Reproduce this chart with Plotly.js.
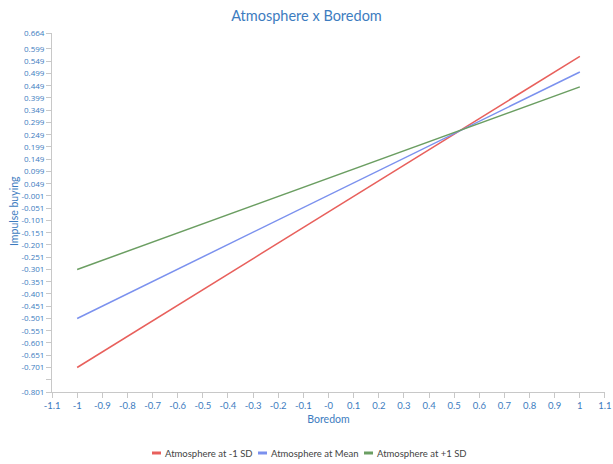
<!DOCTYPE html>
<html>
<head>
<meta charset="utf-8">
<script src="https://cdn.plot.ly/plotly-3.0.1.min.js"></script>
<style>html,body{margin:0;padding:0;background:#fff;}#chart{width:613px;height:464px;}</style>
</head>
<body>
<div id="chart"></div>
<script>
const xValues = [-1, 1];
const seriesNames = ["Atmosphere at -1 SD", "Atmosphere at Mean", "Atmosphere at +1 SD"];
const lowSD = [-0.701, 0.569];
const meanSD = [-0.501, 0.505];
const highSD = [-0.301, 0.444];
const seriesColors = ["#e8605c", "#7b91ee", "#6b9e62"];
const yTickVals = [-0.801, -0.751, -0.701, -0.651, -0.601, -0.551, -0.501, -0.451, -0.401, -0.351, -0.301, -0.251, -0.201, -0.151, -0.101, -0.051, -0.001, 0.049, 0.099, 0.149, 0.199, 0.249, 0.299, 0.349, 0.399, 0.449, 0.499, 0.549, 0.599, 0.664];
const yTickText = ["-0.801", "", "-0.701", "-0.651", "-0.601", "-0.551", "-0.501", "-0.451", "-0.401", "-0.351", "-0.301", "-0.251", "-0.201", "-0.151", "-0.101", "-0.051", "-0.001", "0.049", "0.099", "0.149", "0.199", "0.249", "0.299", "0.349", "0.399", "0.449", "0.499", "0.549", "0.599", "0.664"];
const xTickVals = [-1.1, -1, -0.9, -0.8, -0.7, -0.6, -0.5, -0.4, -0.3, -0.2, -0.1, 0, 0.1, 0.2, 0.3, 0.4, 0.5, 0.6, 0.7, 0.8, 0.9, 1, 1.1];
const xTickText = ["-1.1", "-1", "-0.9", "-0.8", "-0.7", "-0.6", "-0.5", "-0.4", "-0.3", "-0.2", "-0.1", "-0", "0.1", "0.2", "0.3", "0.4", "0.5", "0.6", "0.7", "0.8", "0.9", "1", "1.1"];

const allSeries = [lowSD, meanSD, highSD];
const traces = allSeries.map((ys, i) => ({
  x: xValues, y: ys, type: "scatter", mode: "lines", name: seriesNames[i],
  line: {color: seriesColors[i], width: 1.5}, showlegend: false
}));

const W = 613, H = 464;
const M = {l: 52, r: 8, t: 33, b: 72};
const pw = W - M.l - M.r, ph = H - M.t - M.b;
const px = p => (p - M.l) / pw;
const py = p => (H - M.b - p) / ph;

const blue = "#3d7cc0";
const font = "Lato, 'Open Sans', sans-serif";
const tickFontY = "'Open Sans', sans-serif";

// custom compact legend
const legendStarts = [152, 258, 364];
const legendY = 453;
const shapes = [], annotations = [];
seriesNames.forEach((name, i) => {
  const x0 = legendStarts[i];
  shapes.push({type: "line", xref: "paper", yref: "paper", x0: px(x0), x1: px(x0 + 9), y0: py(legendY), y1: py(legendY),
               line: {color: seriesColors[i], width: 3}});
  annotations.push({xref: "paper", yref: "paper", x: px(x0 + 11), y: py(legendY), xanchor: "left", yanchor: "middle",
                    text: name, showarrow: false, font: {family: font, size: 9.5, color: "#444"}});
});
annotations.push({xref: "paper", yref: "paper", x: px(14), y: py(211), xanchor: "center", yanchor: "middle",
                  text: "Impulse buying", textangle: -90, showarrow: false, font: {family: font, size: 10.5, color: blue}});

const layout = {
  width: W, height: H,
  margin: {l: M.l, r: M.r, t: M.t, b: M.b, autoexpand: false},
  paper_bgcolor: "#fff", plot_bgcolor: "#fff",
  font: {family: font, color: blue, size: 9},
  title: {text: "Atmosphere x Boredom", font: {family: font, size: 14.5, color: blue}, x: 0.5, xanchor: "center", y: 0.965, yanchor: "middle"},
  showlegend: false,
  shapes: shapes,
  annotations: annotations,
  xaxis: {
    range: [-1.1001, 1.1001], tickvals: xTickVals, ticktext: xTickText,
    showgrid: false, zeroline: false, showline: true, linecolor: "#c8c8c8", linewidth: 1,
    ticks: "outside", ticklen: 5, tickcolor: "#c8c8c8", ticklabeloverflow: "allow",
    tickfont: {size: 9.5, color: blue},
    title: {text: "Boredom", font: {size: 10.5, color: blue}, standoff: 5}
  },
  yaxis: {
    range: [-0.801, 0.664], tickvals: yTickVals, ticktext: yTickText,
    showgrid: false, zeroline: false, showline: true, linecolor: "#c8c8c8", linewidth: 1,
    ticks: "outside", ticklen: 5, tickcolor: "#c8c8c8",
    tickfont: {family: tickFontY, size: 8, color: blue}
  }
};

Plotly.newPlot("chart", traces, layout, {displayModeBar: false, staticPlot: true});
</script>
</body>
</html>
